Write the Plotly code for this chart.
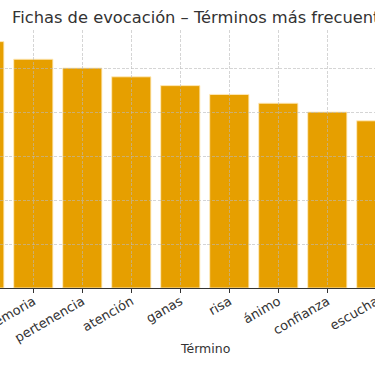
import plotly.graph_objects as go

# Data
terms = ["familia", "memoria", "pertenencia", "atención", "ganas", "risa", "ánimo", "confianza", "escucha"]
counts = [28, 26, 25, 24, 23, 22, 21, 20, 19]

title_text = "Fichas de evocación – Términos más frecuentes"
x_title = "Término"

BAR = "#E69F00"
TXT = "#333333"
FONT = "DejaVu Sans"

W, H = 410, 366
x_range = [0.3204, 0.3204 + W / 49.0]
y_range = [0, 29.32]

fig = go.Figure()
fig.add_trace(go.Bar(
    x=terms, y=counts,
    marker=dict(color=BAR, line=dict(color="rgba(255,235,190,0.9)", width=1)),
    hoverinfo="skip", showlegend=False,
))
# helper trace so the overlay axes (carrying the grid drawn above bars) exist
fig.add_trace(go.Scatter(
    x=terms, y=[None] * len(terms), xaxis="x2", yaxis="y2",
    mode="markers", showlegend=False, hoverinfo="skip",
))

grid = dict(showgrid=True, gridcolor="rgba(185,185,185,0.6)", gridwidth=1, griddash="3px,1.5px")

fig.update_layout(
    width=W, height=H,
    margin=dict(l=0, r=0, t=30, b=78),
    paper_bgcolor="white", plot_bgcolor="rgba(0,0,0,0)",
    bargap=0.2,
    font=dict(family=FONT, color=TXT, size=13),
    title=dict(text=title_text, font=dict(size=16.3, color=TXT, family=FONT),
               xref="container", x=12 / W, xanchor="left",
               yref="container", y=1 - 17.5 / H, yanchor="middle"),
    xaxis=dict(type="category", categoryorder="array", categoryarray=terms,
               range=x_range, showgrid=False, zeroline=False,
               showline=True, linecolor=TXT, linewidth=1,
               ticks="outside", ticklen=4, tickcolor=TXT, tickwidth=1,
               tickangle=-30, tickfont=dict(size=13, color=TXT),
               ticklabelstandoff=-4,
               automargin=False),
    yaxis=dict(range=y_range, showgrid=False, zeroline=False, showticklabels=False,
               showline=False, ticks=""),
    xaxis2=dict(type="category", categoryorder="array", categoryarray=terms,
                range=x_range, anchor="y2", domain=[0, 1],
                showticklabels=False, ticks="", zeroline=False, showline=False, **grid),
    yaxis2=dict(range=y_range, anchor="x2", domain=[0, 1], dtick=5,
                showticklabels=False, ticks="", zeroline=False, showline=False, **grid),
    annotations=[dict(text=x_title, xref="paper", yref="paper", x=0.5, y=-60 / 258,
                      xanchor="center", yanchor="middle", showarrow=False,
                      font=dict(size=12.5, color=TXT, family=FONT))],
)

fig.write_html(
    "out.html",
    config={"displayModeBar": False, "staticPlot": True},
    post_script="document.body.style.margin='0';document.body.style.overflow='hidden';"
                "document.documentElement.style.overflow='hidden';",
)
